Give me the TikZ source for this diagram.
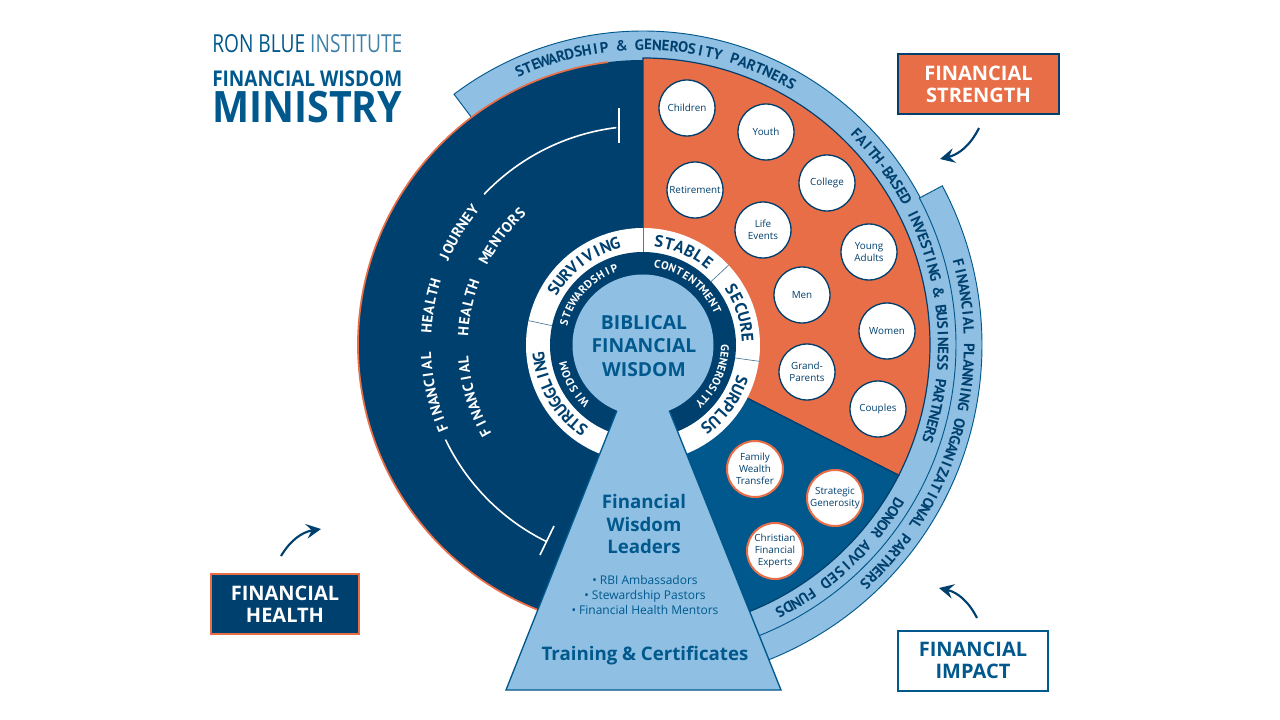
\documentclass[tikz,border=0pt]{standalone}
\usepackage{fontspec}
\setmainfont{Open Sans}
\newfontfamily\arcfamily{PT Sans}
\usetikzlibrary{arrows.meta}
\definecolor{navy1}{RGB}{0, 64, 110}
\definecolor{blue1}{RGB}{0, 88, 140}
\definecolor{orange1}{RGB}{232, 110, 72}
\definecolor{sky1}{RGB}{143, 192, 227}
\newcommand{\bandfont}{\arcfamily\bfseries\fontsize{11.2}{13}\selectfont\color{navy1}}
\newcommand{\ringfont}{\arcfamily\bfseries\fontsize{12.4}{14}\selectfont\color{navy1}}
\newcommand{\darkfont}{\arcfamily\bfseries\fontsize{8.4}{10}\selectfont\color{white}}
\newcommand{\leftfont}{\arcfamily\bfseries\fontsize{11}{13}\selectfont\color{white}}
\newlength{\arcsum}
\newlength{\arcgap}
\newlength{\arcpos}
\newlength{\arcwide}
\newcount\arccount
\newcount\arcindex
\newbox\arcbox
\def\arcblank{_}
\def\arcglyph{\ifx\arcch\arcblank\hskip\fontdimen2\font\else\arcch\fi}
\makeatletter
\newcommand{\arctext}[5]{%
  \def\arcfont{#1}%
  \arcsum=0pt \arccount=0 %
  \@tfor\arcch:=#5\do{\setbox\arcbox=\hbox{\arcfont\arcglyph}\advance\arcsum by\wd\arcbox \advance\arccount by 1 }%
  \pgfmathsetlength{\arcgap}{((#3-(#4))*0.0174533*#2*0.75-\arcsum)/(\arccount-1)}%
  \arcpos=0pt %
  \@tfor\arcch:=#5\do{\setbox\arcbox=\hbox{\arcfont\arcglyph}\arcwide=\wd\arcbox
    \pgfmathsetmacro{\arcangle}{#3-(\arcpos+0.5*\arcwide)/(#2*0.75)*57.29578}%
    \pgfmathsetmacro{\arcturn}{\arcangle-90}%
    \global\advance\arcindex by 1 %
    \node[inner sep=0pt, outer sep=0pt, anchor=base, rotate=\arcturn] (arcletter\the\arcindex) at (\arcangle:#2) {\arcfont\arcglyph};%
    \advance\arcpos by\arcgap
    \advance\arcpos by\arcwide }%
}
\makeatother
\tikzset{
  lifestage/.style={circle, draw=navy1, line width=1pt, fill=white, minimum size=42pt, inner sep=0pt, align=center, text=navy1, font=\fontsize{7.4}{9.2}\selectfont},
  legacy/.style={lifestage, draw=orange1, line width=1.5pt},
  labelbox/.style={minimum height=45pt, inner sep=0pt, outer sep=0pt, line width=1.5pt, align=center, font=\bfseries\fontsize{15}{16.5}\selectfont},
  swoosh/.style={line width=1.6pt, navy1, -{Stealth[length=11pt, width=11pt, inset=4pt]}},
  band/.style={fill=sky1, draw=blue1, line width=0.7pt},
  whitemark/.style={white, line width=1.2pt}
}
\begin{document}
\begin{tikzpicture}[x=0.75pt, y=0.75pt]
  \useasboundingbox (-643,-375) rectangle (637,345);

  \filldraw[band] (28:313) -- (28:339) arc[start angle=28, end angle=-68.2, radius=339] -- (-68.2:313) -- cycle;
  \filldraw[band] (127:286) -- (127:314) arc[start angle=127, end angle=28, radius=314] -- (28:313) arc[start angle=28, end angle=-68.2, radius=313] -- (-68.2:286) -- cycle;

  \fill[navy1] (0,0) -- (90:285) arc[start angle=90, end angle=248.3, radius=285] -- cycle;
  \draw[orange1, line width=1.3pt] (97:285) arc[start angle=97, end angle=248.3, radius=285];
  \filldraw[fill=orange1, draw=navy1, line width=0.9pt] (0,0) -- (90:287) arc[start angle=90, end angle=-27, radius=287] -- cycle;
  \filldraw[fill=blue1, draw=navy1, line width=0.9pt] (0,0) -- (-27:287) arc[start angle=-27, end angle=-68.2, radius=287] -- cycle;

  \fill[white] (0,0) circle (117);
  \fill[navy1] (0,0) circle (93);
  \draw[navy1!70, line width=0.5pt] (90:93) -- (90:117);
  \draw[navy1!70, line width=0.5pt] (43:93) -- (43:117);
  \draw[navy1!70, line width=0.5pt] (-8:93) -- (-8:117);
  \draw[navy1!70, line width=0.5pt] (168:93) -- (168:117);

  \filldraw[fill=sky1, draw=blue1, line width=1pt] (0,0) -- (-137,-345) -- (138,-345) -- cycle;
  \fill[sky1] (0,0) circle (70.5);

  \draw[whitemark] (136.5:219) arc[start angle=136.5, end angle=97, radius=219];
  \draw[whitemark] (-24,237) -- (-24,202);
  \draw[whitemark] (205.6:219) arc[start angle=205.6, end angle=243.8, radius=219];
  \draw[whitemark] (-89,-181) -- (-103,-210);

  \arctext{\leftfont}{212}{202.5}{141.5}{FINANCIAL__HEALTH__JOURNEY}
  \arctext{\leftfont}{175}{209}{133}{FINANCIAL__HEALTH__MENTORS}

  \arctext{\bandfont}{295}{114.3}{60.4}{STEWARDSHIP_\&_GENEROSITY_PARTNERS}
  \arctext{\bandfont}{295}{44.7}{-18.3}{FAITH-BASED_INVESTING_\&_BUSINESS_PARTNERS}
  \arctext{\bandfont}{295}{-31.9}{-62.8}{DONOR_ADVISED_FUNDS}
  \arctext{\bandfont}{321}{14.6}{-47}{FINANCIAL_PLANNING_ORGANIZATIONAL_PARTNERS}

  \arctext{\ringfont}{99}{148.4}{105.6}{SURVIVING}
  \arctext{\ringfont}{99}{81.2}{52}{STABLE}
  \arctext{\ringfont}{99}{32.3}{4.2}{SECURE}
  \arctext{\ringfont}{99}{-20}{-52.6}{SURPLUS}
  \arctext{\ringfont}{99}{234.3}{186.6}{STRUGGLING}

  \arctext{\darkfont}{78}{164.2}{110.5}{STEWARDSHIP}
  \arctext{\darkfont}{78}{79.8}{25.7}{CONTENTMENT}
  \arctext{\darkfont}{78}{-2}{-46}{GENEROSITY}
  \arctext{\darkfont}{78}{224}{195}{WISDOM}

  \node[align=center, text=blue1, font=\bfseries\fontsize{14.5}{17.8}\selectfont] (biblical) at (1,-1) {BIBLICAL\\FINANCIAL\\WISDOM};
  \node[align=center, text=blue1, font=\bfseries\fontsize{14}{16.6}\selectfont] (leaders) at (1,-179) {Financial\\Wisdom\\Leaders};
  \node[align=center, text=blue1, font=\fontsize{9}{11.6}\selectfont] (roles) at (2,-250) {• RBI Ambassadors\\• Stewardship Pastors\\• Financial Health Mentors};
  \node[text=blue1, font=\bfseries\fontsize{14}{16}\selectfont] (training) at (2,-311) {Training \& Certificates};

  \node[lifestage] (children) at (44,237) {Children};
  \node[lifestage] (youth) at (123,213) {Youth};
  \node[lifestage] (retirement) at (52,155) {Retirement};
  \node[lifestage] (college) at (184,162) {College};
  \node[lifestage] (lifeevents) at (120,115) {Life\\Events};
  \node[lifestage] (youngadults) at (226,93) {Young\\Adults};
  \node[lifestage] (men) at (159,50) {Men};
  \node[lifestage] (women) at (244,14) {Women};
  \node[lifestage] (grandparents) at (164,-27) {Grand-\\Parents};
  \node[lifestage] (couples) at (235,-64) {Couples};
  \node[legacy] (family) at (112,-124) {Family\\Wealth\\Transfer};
  \node[legacy] (strategic) at (192,-153) {Strategic\\Generosity};
  \node[legacy] (christian) at (132,-206) {Christian\\Financial\\Experts};

  \node[labelbox, minimum width=120.75pt, fill=orange1, draw=navy1, text=white] (strength) at (335.5,261) {FINANCIAL\\STRENGTH};
  \node[labelbox, minimum width=111pt, fill=navy1, draw=orange1, text=white] (health) at (-358,-259) {FINANCIAL\\HEALTH};
  \node[labelbox, minimum width=112.5pt, fill=white, draw=blue1, text=blue1] (impact) at (330,-315.5) {FINANCIAL\\IMPACT};

  \coordinate (strengthtail) at (336,217);
  \coordinate (strengthtip) at (297,186);
  \coordinate (healthtail) at (-362,-211);
  \coordinate (healthtip) at (-322,-184);
  \coordinate (impacttail) at (334,-273);
  \coordinate (impacttip) at (296,-243);
  \draw[swoosh] (strengthtail) to[bend left=25] (strengthtip);
  \draw[swoosh] (healthtail) to[bend left=25] (healthtip);
  \draw[swoosh] (impacttail) to[bend right=25] (impacttip);

  \node[anchor=south west, inner sep=0pt, text=blue1] (ronblue) at (-431,292) {\resizebox{142.5pt}{13.5pt}{RON BLUE {\color{blue1!75}INSTITUTE}}};
  \node[anchor=south west, inner sep=0pt, text=blue1] (wisdom) at (-431,258) {\resizebox{142.5pt}{11.8pt}{\bfseries FINANCIAL WISDOM}};
  \node[anchor=south west, inner sep=0pt, text=blue1] (ministry) at (-431,222) {\resizebox{142.5pt}{23.5pt}{\bfseries MINISTRY}};
\end{tikzpicture}
\end{document}
